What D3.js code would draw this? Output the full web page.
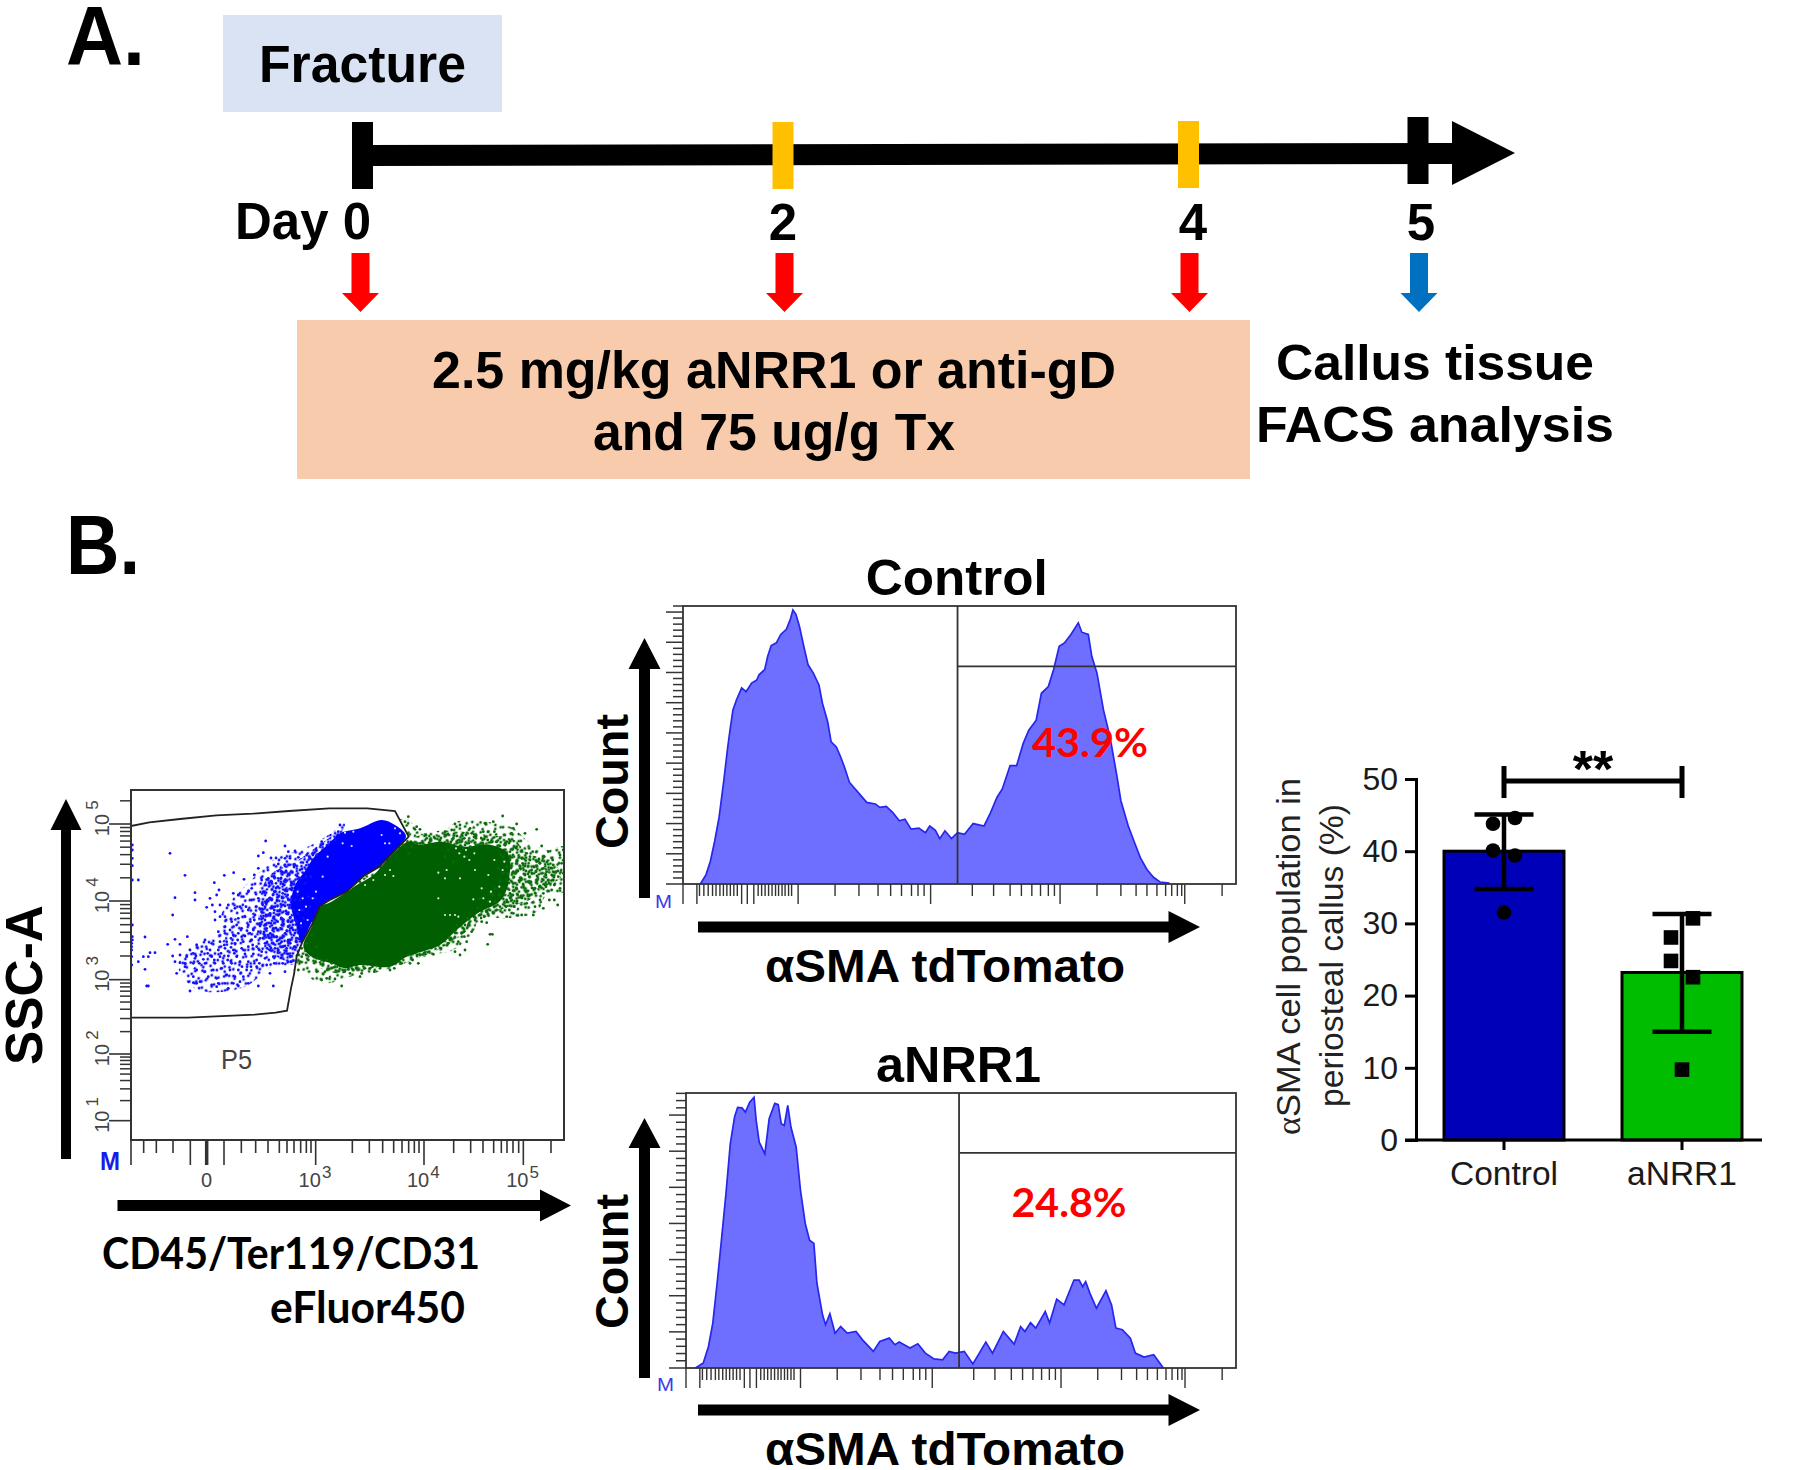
<!DOCTYPE html>
<html><head><meta charset="utf-8">
<script src="https://cdn.jsdelivr.net/npm/d3@7"></script>
<style>html,body{margin:0;padding:0;background:#fff}svg{display:block}text{font-family:"Liberation Sans",Arial,sans-serif}</style>
</head><body><svg id="c" width="1800" height="1470"></svg>
<script>
// ---------- Panel A: timeline ----------
const timelineDays=[0,2,4,5];
const dayColors=["#000000","#ffc000","#ffc000","#000000"];
const arrowDays=[0,2,4,5];
const arrowColors=["#ff0000","#ff0000","#ff0000","#0070c0"];
// ---------- Panel B: scatter (side scatter vs lineage channel) ----------
const gateP5=[[0,942],[55,953],[147,963],[256,974],[365,979],[474,987],[595,995],[709,995],[792,987],[833,910],[801,878],[744,819],[698,792],[646,744],[600,722],[566,701],[543,647],[514,594],[497,551],[489,497],[480,455],[468,388],[434,382],[371,376],[170,367],[0,367]];
const blueCore=[[627,920],[687,935],[752,960],[792,945],[825,912],[787,865],[727,800],[677,760],[627,730],[572,695],[535,640],[515,585],[497,640],[480,710],[495,770],[525,810],[550,850],[590,885]];
const blueHaloHigh=[[412,790],[502,840],[572,890],[640,930],[620,760],[560,660],[505,550],[492,530],[402,580],[382,690]];
const blueHaloLow=[[272,680],[382,800],[440,850],[510,870],[600,920],[640,950],[560,650],[492,530],[422,520],[342,460],[202,450],[142,520],[182,580],[262,620]];
const greenCore=[[642,740],[592,710],[567,700],[542,640],[517,580],[542,550],[602,530],[642,515],[687,525],[777,520],[827,550],[927,585],[977,630],[1040,680],[1110,720],[1135,790],[1130,860],[1080,885],[1000,880],[927,895],[867,885],[832,895],[777,850],[727,795],[677,765]];
const greenHaloHigh=[[840,900],[900,925],[990,925],[1070,915],[1150,900],[1190,860],[1265,835],[1290,790],[1235,755],[1195,720],[1120,695],[1050,660],[985,610],[900,560],[800,530],[690,510],[620,500],[560,520],[520,560],[650,700]];
const greenHaloOuter=[[817,965],[880,915],[927,915],[977,955],[1067,955],[1147,935],[1187,900],[1247,870],[1299,880],[1299,745],[1247,735],[1217,685],[1127,665],[1047,665],[1027,625],[967,570],[897,555],[807,525],[727,500],[667,492],[572,470],[507,515],[495,550],[640,720]];
const blueDots=[[404,897],[462,882],[117,860],[382,852],[397,862],[472,865],[492,867],[420,846],[435,846],[462,845],[477,845],[502,848],[442,828],[462,825],[492,825],[382,815],[507,810],[527,855],[537,845],[557,855],[572,895],[592,885],[612,900],[627,945],[622,925],[162,794],[280,794],[308,802],[339,782],[370,795],[392,780],[250,772],[264,750],[192,742],[132,727],[192,720],[237,725],[257,735],[307,740],[322,735],[337,730],[362,755],[352,745],[397,745],[412,785],[422,775],[442,785],[462,780],[482,770],[227,698],[244,705],[252,685],[267,705],[292,705],[312,695],[327,700],[362,720],[382,725],[402,700],[422,720],[442,730],[462,750],[482,750],[502,750],[522,770],[125,675],[267,670],[252,660],[282,670],[302,655],[322,665],[342,670],[372,675],[392,685],[417,680],[432,700],[452,705],[472,720],[492,720],[507,720],[532,730],[552,725],[282,640],[297,630],[317,645],[332,635],[352,645],[367,630],[387,650],[402,660],[427,665],[442,675],[467,680],[487,690],[512,690],[537,700],[4,645],[262,625],[282,620],[307,615],[332,610],[357,620],[382,625],[407,635],[427,635],[452,645],[472,655],[492,660],[517,665],[42,609],[132,602],[169,610],[147,587],[110,587],[197,585],[222,600],[242,590],[267,595],[287,595],[312,590],[337,595],[362,600],[387,605],[412,615],[437,610],[462,620],[487,630],[512,640],[177,570],[187,560],[212,565],[237,570],[262,570],[282,575],[307,570],[332,575],[352,580],[377,580],[402,590],[427,590],[452,595],[472,600],[497,605],[72,562],[57,562],[52,550],[37,550],[22,535],[125,552],[147,555],[167,550],[192,545],[217,542],[242,550],[267,550],[292,552],[317,550],[342,558],[367,558],[392,565],[417,570],[442,570],[467,575],[492,580],[147,532],[132,535],[162,530],[187,530],[222,530],[252,530],[277,530],[302,530],[327,535],[352,535],[377,540],[402,545],[427,550],[452,555],[477,552],[42,512],[137,500],[162,520],[197,510],[222,505],[247,510],[272,515],[297,510],[322,510],[347,510],[377,520],[407,525],[417,500],[462,505],[492,510],[187,490],[232,490],[257,485],[287,495],[312,490],[337,490],[197,470],[187,472],[207,475],[262,470],[242,465],[282,470],[307,470],[327,475],[352,470],[47,462],[52,462],[177,447],[292,455],[322,462],[382,462],[427,462],[257,460],[4,885],[4,870],[4,845],[4,823],[22,780],[4,780],[4,610],[4,600],[2,590],[2,580],[2,570],[2,525],[2,550],
[440,760],[455,740],[470,735],[430,745],[415,725],[405,710],[430,690],[447,690],[412,675],[395,705],[375,700],[352,690],[370,660],[358,655],[345,700],[395,665],[405,645],[420,650],[440,655],[455,662],[478,668],[500,680],[418,620],[398,618],[373,610],[348,628],[322,620],[300,605],[280,585],[300,578],[320,600],[342,612],[365,585],[385,570],[408,575],[432,575],[455,580],[478,590],[495,595],[440,630],[472,640],[498,655],[518,690],[478,705],[460,765],[500,735],[435,770],[475,795],[452,805],[525,790],[510,785],[540,790],[195,552],[205,530],[230,560],[250,540],[270,560],[290,540],[310,560],[333,520],[360,520],[385,530],[430,530],[455,530],[480,535]];
const blueGaps=[[662,882],[635,890],[762,890],[775,890],[752,915],[792,935],[807,920],[667,925],[642,922],[510,650],[530,660],[505,690],[525,700],[545,725],[555,745],[500,745],[515,725],[575,790],[590,850]];
const greenDots=[[832,970],[822,955],[857,940],[867,932],[852,932],[887,905],[867,890],[842,880],[817,885],[832,860],[972,948],[987,945],[962,930],[942,925],[992,915],[1017,935],[1022,920],[1057,925],[1072,925],[1062,950],[1087,955],[1115,972],[1147,935],[1157,948],[1142,920],[1182,920],[1217,932],[1107,905],[1127,895],[1097,895],[967,905],[977,890],[997,875],[1007,850],[967,835],[942,850],[952,870],[927,900],[912,905],[897,900],[1157,880],[1187,860],[1197,850],[1232,882],[1252,865],[1287,855],[1297,870],[1292,830],[1267,825],[1217,835],[1227,830],[1237,815],[1247,805],[1262,795],[1282,790],[1287,755],[1262,750],[1237,740],[1212,755],[1197,735],[1212,700],[1237,695],[1207,675],[1172,675],[1147,680],[1127,670],[1157,710],[1187,710],[1127,720],[1107,700],[1092,715],[1072,715],[1047,725],[1117,755],[1137,740],[1157,755],[1177,765],[1197,770],[1217,780],[1237,780],[1147,805],[1127,820],[1117,800],[1167,815],[1182,795],[1202,810],[1117,850],[1137,840],[1157,835],[1172,845],[1137,865],[1102,815],[1127,780],[1167,780],[1147,770],[1107,775],[1092,755],[1077,740],[1142,720],[1172,730],[1227,720],[1252,780],[1275,805],[1097,690],[1087,680],[1067,685],[1047,675],[1032,660],[1012,645],[997,635],[977,645],[992,620],[982,595],[972,565],[987,555],[1002,570],[952,590],[1067,652],[1052,655],[1022,625],[1007,595],[1077,617],[1084,617],[1070,587],[895,565],[907,557],[867,555],[832,555],[837,530],[862,530],[747,515],[692,500],[667,510],[657,500],[687,490],[717,515],[777,510],[812,530],[512,550],[527,555],[512,575],[542,615],[557,580],[527,590],[507,535],[532,540],[557,545],[572,540],[587,540],[602,530],[612,520],[582,505],[557,505],[572,480],[587,485],[612,483],[632,462],[502,510],[1297,800],[1310,780],[1315,760],[1310,740],[1315,720],[1312,700],[1312,850],[1312,840],[1300,835],[1270,765],[1245,760],[1195,790],[1215,805],[1175,830],[1265,840],[1240,850],[1205,865],[1130,800],[1150,700],[1105,735],[1085,735],[1110,855],[1185,745],[1160,735],[1135,690],[1125,700],[1225,760],[1255,720],[1270,720],[1280,705],[1060,670],[1040,695],[1010,665],[1000,610],[960,605],[930,575],[880,560],[845,540],[790,515],[730,505],[700,515],[640,505],[652,512],[1018,880],[1040,885],[1070,900],[1090,925],[985,900],[960,885],[1000,905],[1035,905]];
const greenGaps=[[922,725],[957,675],[942,675],[947,810],[922,802],[987,785],[942,785],[1032,810],[1052,755],[1072,795],[777,810],[762,795],[787,792],[727,780],[702,765],[972,675],[982,670],[1027,722],[1057,725],[1077,715],[1000,850],[1015,840],[985,860],[1005,870],[975,875],[1030,860],[1090,840],[1105,760],[1080,745],[1115,810],[1120,835]];
const speckleTile=[[3,4],[11,2],[20,6],[29,3],[36,8],[7,11],[15,13],[24,12],[33,15],[2,18],[10,20],[19,19],[27,22],[37,21],[5,26],[14,27],[22,29],[31,28],[38,31],[8,34],[17,36],[26,35],[34,37],[1,38],[12,8],[25,5],[30,18],[6,31]];
const scatterXTicksTall=[0,178,227,279,554,879,1177];
const scatterXTicksShort=[38,76,126,331,374,411,445,468,489,509,526,540,664,715,755,788,813,833,850,864,968,1019,1056,1088,1111,1128,1146,1163,1260];
const scatterXLabels=[{at:554,exp:"3"},{at:879,exp:"4"},{at:1177,exp:"5"}];
const scatterZeroAt=227;
const scatterYDecades=[58,258,481,717,948,1179];
const scatterYLabels=["1","2","3","4","5"];
// ---------- Panel B: histograms (channel, count) ----------
const histChannels=[0,254.6];
const controlHist=[[8,0],[10.6,3.5],[12.6,8.5],[14.6,16],[16.6,24.8],[18.6,37.3],[20.6,51],[21.6,57],[23,64.8],[24.6,68.5],[27,73],[29,71.6],[31.6,74.8],[34,76],[35,77.9],[37.6,79.8],[39,84.8],[40.6,88.8],[43,89.8],[45,92.9],[47.6,94.8],[49.4,98.5],[50.6,102],[52,100.4],[53.6,96],[55.6,88.5],[57.6,81.6],[60,78.5],[62.6,74.1],[64.2,67.3],[66.6,60.4],[68.2,52.9],[70.6,51],[72.6,47.3],[74.6,42.9],[76.6,37.9],[80.6,34.1],[84.6,30.4],[88.6,29.8],[90.6,28.5],[93.6,28.9],[96.6,26.6],[99.6,23.5],[102.2,24.1],[105,20.4],[108.6,20.8],[111.6,19.1],[113.6,21.6],[116.2,20],[118.2,16.9],[120.6,19.8],[123.6,16.9],[126.4,19.1],[129.6,18.5],[133.6,22.5],[138.6,21.6],[141.6,26.6],[144.6,32.3],[147,35.4],[150.6,44.1],[153.6,44.1],[156.6,52.25],[159.2,57.25],[162.6,61],[165,71],[168.2,73.5],[170.6,79.75],[173.2,88.5],[175.6,89.75],[178.6,92.9],[182,97.25],[183.6,93.75],[186.6,92.9],[188.2,84.75],[190.6,78.5],[193.6,64.75],[196.6,54.75],[199.6,41],[201.6,31],[205,21.6],[207.6,16],[210.6,9.75],[213.6,5.4],[216.6,2.5],[219.6,0.75],[223.6,0.4],[223.6,0]];
const nrrHist=[[4.4,0],[8,1.9],[10.4,8.1],[12.4,16.9],[14.4,31.9],[16.4,48.1],[18.5,65.6],[20.5,84.4],[22.5,94.6],[23.9,98.1],[25.9,97.9],[27.5,96.3],[29.5,100],[31.5,101.9],[32.5,93.1],[33.9,85],[36.5,80.6],[38.5,93.8],[41.1,99.6],[42.7,99.1],[44.1,91.9],[45.5,91.3],[47.1,98.8],[48.6,90.6],[51,83.1],[53,66.9],[55.2,54.4],[57.2,48.1],[59.2,46.9],[60.6,31.9],[63.2,20],[64.6,16.3],[66.6,20.4],[69,13.1],[71.6,15.6],[74.6,13.1],[78.7,13.75],[81.7,10.6],[86.7,6.25],[89.7,10],[94.1,11.25],[96.7,8.75],[98.7,9.75],[103.7,7.5],[107.3,9.1],[110.8,5.6],[114.8,3.4],[118.8,3.1],[121.8,6.25],[124.8,5.6],[128.8,6.25],[132.8,1.5],[138.8,9.75],[141.9,5.6],[146.9,13.75],[151.9,9],[154.9,15.6],[156.9,13.75],[159.5,17.1],[161.9,15],[166.3,21.25],[168.3,16.9],[171.6,25.9],[175,23.75],[179.6,33.1],[182,33.1],[183.6,30.6],[185,32.5],[187,28.1],[190,22.5],[194.4,29.1],[197,23.75],[199,15],[202,14.4],[205.7,11.25],[208,5.6],[212,4.1],[216.5,5],[221,0]];
const gateChannel=126.4, gateCount=81;
const histTicksTall=[0,6.4,27,29.6,32.6,53,114,173.6,231];
const histTicksShort=[7.6,9.6,11.6,13.6,15.2,17,18.6,20.2,21.8,23.4,25,34.6,36.2,37.8,39.4,41,42.6,44,45.6,47,48.6,50,70,81,89.8,95.6,100.6,105.2,108.2,111,133.2,143,150.6,155.8,160.6,164.6,168.2,171,190.6,201.6,208.6,213.6,218.2,222.2,225,227.6,229.6,248.2];
// ---------- Panel B: bars ----------
const categories=["Control","aNRR1"];
const means=[40,23.2];
const errLow=[34.75,15];
const errHigh=[45.1,31.3];
const controlPoints=[44.6,43.8,40.1,39.4,31.5];
const nrrPoints=[30.7,28.05,24.8,22.55,9.75];
const pointSide=[1,-1,-1,1,0];
const yTicks=[0,10,20,30,40,50];

const svg=d3.select("#c");
const defs=svg.append("defs");
svg.append("rect").attr("width",1800).attr("height",1470).attr("fill","#fff");

function fit(text,x,y,size,width,opt={}){
  const t=svg.append("text").attr("x",x).attr("y",y).attr("font-size",size)
    .attr("font-weight",opt.weight||"bold").attr("fill",opt.fill||"#000")
    .attr("text-anchor",opt.anchor||"start").text(text);
  if(opt.font) t.style("font-family",opt.font);
  if(width){t.attr("textLength",width).attr("lengthAdjust","spacingAndGlyphs");}
  if(opt.rot) t.attr("transform",`rotate(${opt.rot} ${x} ${y})`);
  return t;
}
const poly=(pts,fill,g)=>(g||svg).append("polygon").attr("points",pts.map(p=>p.join(",")).join(" ")).attr("fill",fill);
function arrowUp(cx,top,headBase,bottom,halfHead,halfShaft,fill="#000"){poly([[cx,top],[cx+halfHead,headBase],[cx+halfShaft,headBase],[cx+halfShaft,bottom],[cx-halfShaft,bottom],[cx-halfShaft,headBase],[cx-halfHead,headBase]],fill);}
function arrowRight(cy,left,headBase,tip,halfHead,halfShaft,fill="#000"){poly([[tip,cy],[headBase,cy-halfHead],[headBase,cy-halfShaft],[left,cy-halfShaft],[left,cy+halfShaft],[headBase,cy+halfShaft],[headBase,cy+halfHead]],fill);}
function arrowDown(cx,top,headBase,tip,halfHead,halfShaft,fill){poly([[cx,tip],[cx+halfHead,headBase],[cx+halfShaft,headBase],[cx+halfShaft,top],[cx-halfShaft,top],[cx-halfShaft,headBase],[cx-halfHead,headBase]],fill);}

// ===== Panel A =====
fit("A.",66,65,84,79);
svg.append("rect").attr("x",223).attr("y",15).attr("width",279).attr("height",97).attr("fill","#dae3f3");
fit("Fracture",259,82,51,207);
const dayX=d3.scaleLinear().domain(timelineDays).range([362.5,783,1188.5,1418]);
poly([[363,145],[1452,143],[1452,121],[1515,153],[1452,185],[1452,164],[363,166]],"#000");
const tickTops=[122,122,121,117];
svg.selectAll("rect.day").data(timelineDays).join("rect").attr("class","day")
  .attr("x",d=>dayX(d)-10.5).attr("width",21)
  .attr("y",(d,i)=>tickTops[i]).attr("height",67).attr("fill",(d,i)=>dayColors[i]);
fit("Day 0",371,239,51,136,{anchor:"end"});
fit("2",783,240,51,null,{anchor:"middle"});
fit("4",1193,240,51,null,{anchor:"middle"});
fit("5",1421,240,51,null,{anchor:"middle"});
const arrowDx=[-2,1.5,1,1];
arrowDays.forEach((d,i)=>arrowDown(dayX(d)+arrowDx[i],253,293,312,18.5,9,arrowColors[i]));
svg.append("rect").attr("x",297).attr("y",320).attr("width",953).attr("height",159).attr("fill","#f8cbad");
fit("2.5 mg/kg aNRR1 or anti-gD",432,388,51,684);
fit("and 75 ug/g Tx",593,450,51,362);
fit("Callus tissue",1276,380,50,318);
fit("FACS analysis",1256,442,50,358);

// ===== Panel B label =====
fit("B.",66,574,84,74);

// ===== Scatter =====
const sx=d3.scaleLinear().domain([0,1299]).range([131,564]);
const sy=d3.scaleLinear().domain([0,1050]).range([1140,790]);
const spath=pts=>pts.map(p=>[sx(p[0]),sy(p[1])]);
const gatePath=d3.line().x(d=>sx(d[0])).y(d=>sy(d[1])).curve(d3.curveLinearClosed)(gateP5);
const framePath=`M${sx(0)},${sy(1050)}H${sx(1299)}V${sy(0)}H${sx(0)}Z`;
defs.append("clipPath").attr("id","inGate").append("path").attr("d",gatePath);
defs.append("clipPath").attr("id","inFrame").append("path").attr("d",framePath);
defs.append("clipPath").attr("id","outGate").append("path").attr("d",framePath+gatePath).attr("clip-rule","evenodd");
const smooth=d3.line().curve(d3.curveCatmullRomClosed.alpha(.5));
function speckle(g,region,color,angles){
  angles.forEach(a=>{
    const id="sp"+color.slice(1)+"_"+a;
    const pat=defs.append("pattern").attr("id",id).attr("patternUnits","userSpaceOnUse").attr("width",40).attr("height",40).attr("patternTransform",`rotate(${a})`);
    pat.selectAll("circle").data(speckleTile).join("circle").attr("cx",d=>d[0]).attr("cy",d=>d[1]).attr("r",1.4).attr("fill",color);
    g.append("path").attr("d",smooth(spath(region))).attr("fill",`url(#${id})`);
  });
}
const gClip=svg.append("g").attr("clip-path","url(#inFrame)");
const gGreen=gClip.append("g").attr("clip-path","url(#outGate)");
speckle(gGreen,greenHaloOuter,"#0b6b0b",[17,53]);
speckle(gGreen,greenHaloHigh,"#0b6b0b",[0,31,74,112]);
gGreen.append("path").attr("d",smooth(spath(greenCore))).attr("fill","#005f00");
gGreen.selectAll("circle.gd").data(greenDots).join("circle").attr("class","gd").attr("cx",d=>sx(d[0])).attr("cy",d=>sy(d[1])).attr("r",1.4).attr("fill","#0b6b0b");
gGreen.selectAll("circle.gg").data(greenGaps).join("circle").attr("class","gg").attr("cx",d=>sx(d[0])).attr("cy",d=>sy(d[1])).attr("r",1.1).attr("fill","#dfeadf");
const gBlue=gClip.append("g").attr("clip-path","url(#inGate)");
speckle(gBlue,blueHaloLow,"#1010ff",[11,47]);
speckle(gBlue,blueHaloHigh,"#1010ff",[0,29,66,103]);
gBlue.append("path").attr("d",smooth(spath(blueCore))).attr("fill","#0000ff");
gBlue.selectAll("circle.bd").data(blueDots).join("circle").attr("class","bd").attr("cx",d=>sx(d[0])).attr("cy",d=>sy(d[1])).attr("r",1.4).attr("fill","#1010ff");
gBlue.selectAll("circle.bg").data(blueGaps).join("circle").attr("class","bg").attr("cx",d=>sx(d[0])).attr("cy",d=>sy(d[1])).attr("r",1.1).attr("fill","#dedeff");
gClip.append("path").attr("d",gatePath).attr("fill","none").attr("stroke","#222").attr("stroke-width",1.8);
svg.append("path").attr("d",framePath).attr("fill","none").attr("stroke","#333").attr("stroke-width",2);
const axisS=svg.append("g").attr("stroke","#333");
const xt=(vals,len,w)=>axisS.selectAll(null).data(vals).join("line").attr("x1",d=>sx(d)).attr("x2",d=>sx(d)).attr("y1",sy(0)).attr("y2",sy(0)+len).attr("stroke-width",w);
xt(scatterXTicksTall,25,1.6); xt(scatterXTicksShort,13,1.6); xt([scatterZeroAt],25,3.5);
fit("0",sx(scatterZeroAt),1187,20,null,{anchor:"middle",weight:"normal",fill:"#444"});
scatterXLabels.forEach(l=>{
  fit("10",sx(l.at)-6,1187,20,null,{anchor:"middle",weight:"normal",fill:"#444"});
  fit(l.exp,sx(l.at)+11,1178,17,null,{anchor:"middle",weight:"normal",fill:"#444"});
});
scatterYDecades.slice(0,-1).forEach((d,i)=>{
  const next=scatterYDecades[i+1];
  axisS.append("line").attr("x1",sx(0)-22).attr("x2",sx(0)).attr("y1",sy(d)).attr("y2",sy(d)).attr("stroke-width",1.6);
  d3.range(2,10).forEach(k=>{
    const v=d+(next-d)*Math.log10(k);
    if(v<=1030) axisS.append("line").attr("x1",sx(0)-11).attr("x2",sx(0)).attr("y1",sy(v)).attr("y2",sy(v)).attr("stroke-width",1.5);
  });
  const px=109,py=sy(d);
  fit("10",px,py+1,20,null,{anchor:"middle",weight:"normal",fill:"#444",rot:-90});
  fit(scatterYLabels[i],px-11,py-19,17,null,{anchor:"middle",weight:"normal",fill:"#444",rot:-90});
});
fit("M",100,1170,26,20,{fill:"#1a1aee"});
fit("P5",221,1069,27,31,{weight:"normal",fill:"#444"});
arrowUp(66,799,830,1159,15.5,5);
arrowRight(1205.5,117.5,540,571,16,5.5);
fit("SSC-A",42,1065,51,160,{rot:-90});
fit("CD45/Ter119/CD31",102,1269,44,378,{font:"Lato"});
fit("eFluor450",270,1323,44,195,{font:"Lato"});

// ===== Histograms =====
function histogram(cfg){
  const x=d3.scaleLinear().domain(histChannels).range(cfg.xr);
  const y=d3.scaleLinear().domain([0,103.5]).range(cfg.yr);
  const g=svg.append("g");
  const yTickVals=d3.range(0,104,cfg.step);
  g.selectAll("line.yt").data(yTickVals).join("line").attr("class","yt")
    .attr("x1",(d,i)=>cfg.xr[0]-(i%5===0?17:10)).attr("x2",cfg.xr[0]).attr("y1",d=>y(d)).attr("y2",d=>y(d)).attr("stroke","#333").attr("stroke-width",1.5);
  g.selectAll("line.t1").data(histTicksTall).join("line").attr("class","t1").attr("x1",d=>x(d)).attr("x2",d=>x(d)).attr("y1",cfg.yr[0]).attr("y2",cfg.yr[0]+20).attr("stroke","#333").attr("stroke-width",1.4);
  g.selectAll("line.t2").data(histTicksShort).join("line").attr("class","t2").attr("x1",d=>x(d)).attr("x2",d=>x(d)).attr("y1",cfg.yr[0]).attr("y2",cfg.yr[0]+12).attr("stroke","#333").attr("stroke-width",1.4);
  g.append("path").attr("d",d3.area().x(d=>x(d[0])).y0(y(0)).y1(d=>y(d[1]))(cfg.data)).attr("fill","#6f6fff");
  g.append("path").attr("d",d3.line().x(d=>x(d[0])).y(d=>y(d[1]))(cfg.data)).attr("fill","none").attr("stroke","#2626ee").attr("stroke-width",1.7);
  g.append("rect").attr("x",cfg.xr[0]).attr("y",cfg.yr[1]).attr("width",cfg.xr[1]-cfg.xr[0]).attr("height",cfg.yr[0]-cfg.yr[1]).attr("fill","none").attr("stroke","#333").attr("stroke-width",1.8);
  g.append("line").attr("x1",x(gateChannel)).attr("x2",x(gateChannel)).attr("y1",cfg.yr[0]).attr("y2",cfg.yr[1]).attr("stroke","#333").attr("stroke-width",1.8);
  g.append("line").attr("x1",x(gateChannel)).attr("x2",cfg.xr[1]).attr("y1",y(gateCount)).attr("y2",y(gateCount)).attr("stroke","#333").attr("stroke-width",1.8);
  fit(cfg.title,cfg.titleX,cfg.titleY,50,cfg.titleW,{anchor:"middle"});
  fit(cfg.pct,cfg.pctX,cfg.pctY,41,cfg.pctW,{fill:"#ff0000",font:"Lato"});
  fit("M",cfg.mx,cfg.my,19,17,{weight:"normal",fill:"#3a3ae6"});
  arrowUp(644.5,cfg.arrow[0],cfg.arrow[1],cfg.arrow[2],16,5.5);
  arrowRight(cfg.hy,698,1168.5,1200,16,5.5);
  fit("Count",628,cfg.countBottom,47,135,{rot:-90});
  fit("αSMA tdTomato",765,cfg.labelY,46,360);
}
histogram({xr:[683,1236],yr:[884,606],step:2.25,data:controlHist,title:"Control",titleX:956.7,titleY:595,titleW:182,pct:"43.9%",pctX:1032,pctY:757,pctW:116,mx:655,my:908,arrow:[638,669,898],hy:927,countBottom:849,labelY:982});
histogram({xr:[686,1236],yr:[1368,1093],step:2.72,data:nrrHist,title:"aNRR1",titleX:958.6,titleY:1082,titleW:165,pct:"24.8%",pctX:1011.5,pctY:1217,pctW:115,mx:657,my:1391,arrow:[1118,1148,1378],hy:1410,countBottom:1329,labelY:1465});

// ===== Bars =====
const bx=d3.scaleBand().domain(categories).range([1415,1771]).paddingInner(.326).paddingOuter(.163);
const by=d3.scaleLinear().domain([0,50]).range([1140,779]);
const barColors=["#0000b8","#00bd00"];
svg.selectAll("rect.bar").data(categories).join("rect").attr("class","bar")
  .attr("x",d=>bx(d)).attr("width",bx.bandwidth()).attr("y",(d,i)=>by(means[i])).attr("height",(d,i)=>by(0)-by(means[i]))
  .attr("fill",(d,i)=>barColors[i]).attr("stroke","#000").attr("stroke-width",3);
const yAx=svg.append("g").attr("transform","translate(1416,0)").call(d3.axisLeft(by).tickValues(yTicks).tickSize(11).tickPadding(7));
yAx.select(".domain").attr("stroke","#000").attr("stroke-width",3);
yAx.selectAll(".tick line").attr("stroke","#000").attr("stroke-width",3);
yAx.selectAll("text").attr("font-size",32).attr("fill","#1a1a1a").style("font-family",'"Liberation Sans"');
const xAx=svg.append("g").attr("transform","translate(0,1140)").call(d3.axisBottom(bx).tickSize(10).tickPadding(11));
xAx.select(".domain").attr("d","M1405,0H1762").attr("stroke","#000").attr("stroke-width",3);
xAx.selectAll(".tick line").attr("stroke","#000").attr("stroke-width",3);
xAx.selectAll("text").attr("font-size",33.5).attr("fill","#1a1a1a").style("font-family",'"Liberation Sans"');
const cx=d=>bx(d)+bx.bandwidth()/2;
categories.forEach((c,i)=>{
  const g=svg.append("g").attr("stroke","#000").attr("stroke-width",4.5);
  g.append("line").attr("x1",cx(c)).attr("x2",cx(c)).attr("y1",by(errLow[i])).attr("y2",by(errHigh[i]));
  [errLow[i],errHigh[i]].forEach(v=>g.append("line").attr("x1",cx(c)-29.5).attr("x2",cx(c)+29.5).attr("y1",by(v)).attr("y2",by(v)));
});
svg.selectAll("circle.pt").data(controlPoints).join("circle").attr("class","pt")
  .attr("cx",(d,i)=>cx("Control")+pointSide[i]*11).attr("cy",d=>by(d)).attr("r",7.3).attr("fill","#000");
svg.selectAll("rect.pt").data(nrrPoints).join("rect").attr("class","pt")
  .attr("x",(d,i)=>cx("aNRR1")+pointSide[i]*11-7.3).attr("y",d=>by(d)-7.3).attr("width",14.6).attr("height",14.6).attr("fill","#000");
// significance bracket
const sig=svg.append("g").attr("stroke","#000").attr("stroke-width",5);
sig.append("line").attr("x1",cx("Control")).attr("x2",cx("aNRR1")).attr("y1",781).attr("y2",781);
categories.forEach(c=>sig.append("line").attr("x1",cx(c)).attr("x2",cx(c)).attr("y1",766).attr("y2",798));
fit("**",1593,787,52,null,{anchor:"middle"});
const yl=svg.append("text").attr("x",1300).attr("y",1135).attr("font-size",33).attr("fill","#222")
  .attr("textLength",357).attr("lengthAdjust","spacingAndGlyphs").attr("transform","rotate(-90 1300 1135)");
yl.append("tspan").text("α").style("font-family",'"Liberation Serif"');
yl.append("tspan").text("SMA cell population in");
fit("periosteal callus (%)",1343,1107,33,303,{weight:"normal",fill:"#222",rot:-90});
</script></body></html>
